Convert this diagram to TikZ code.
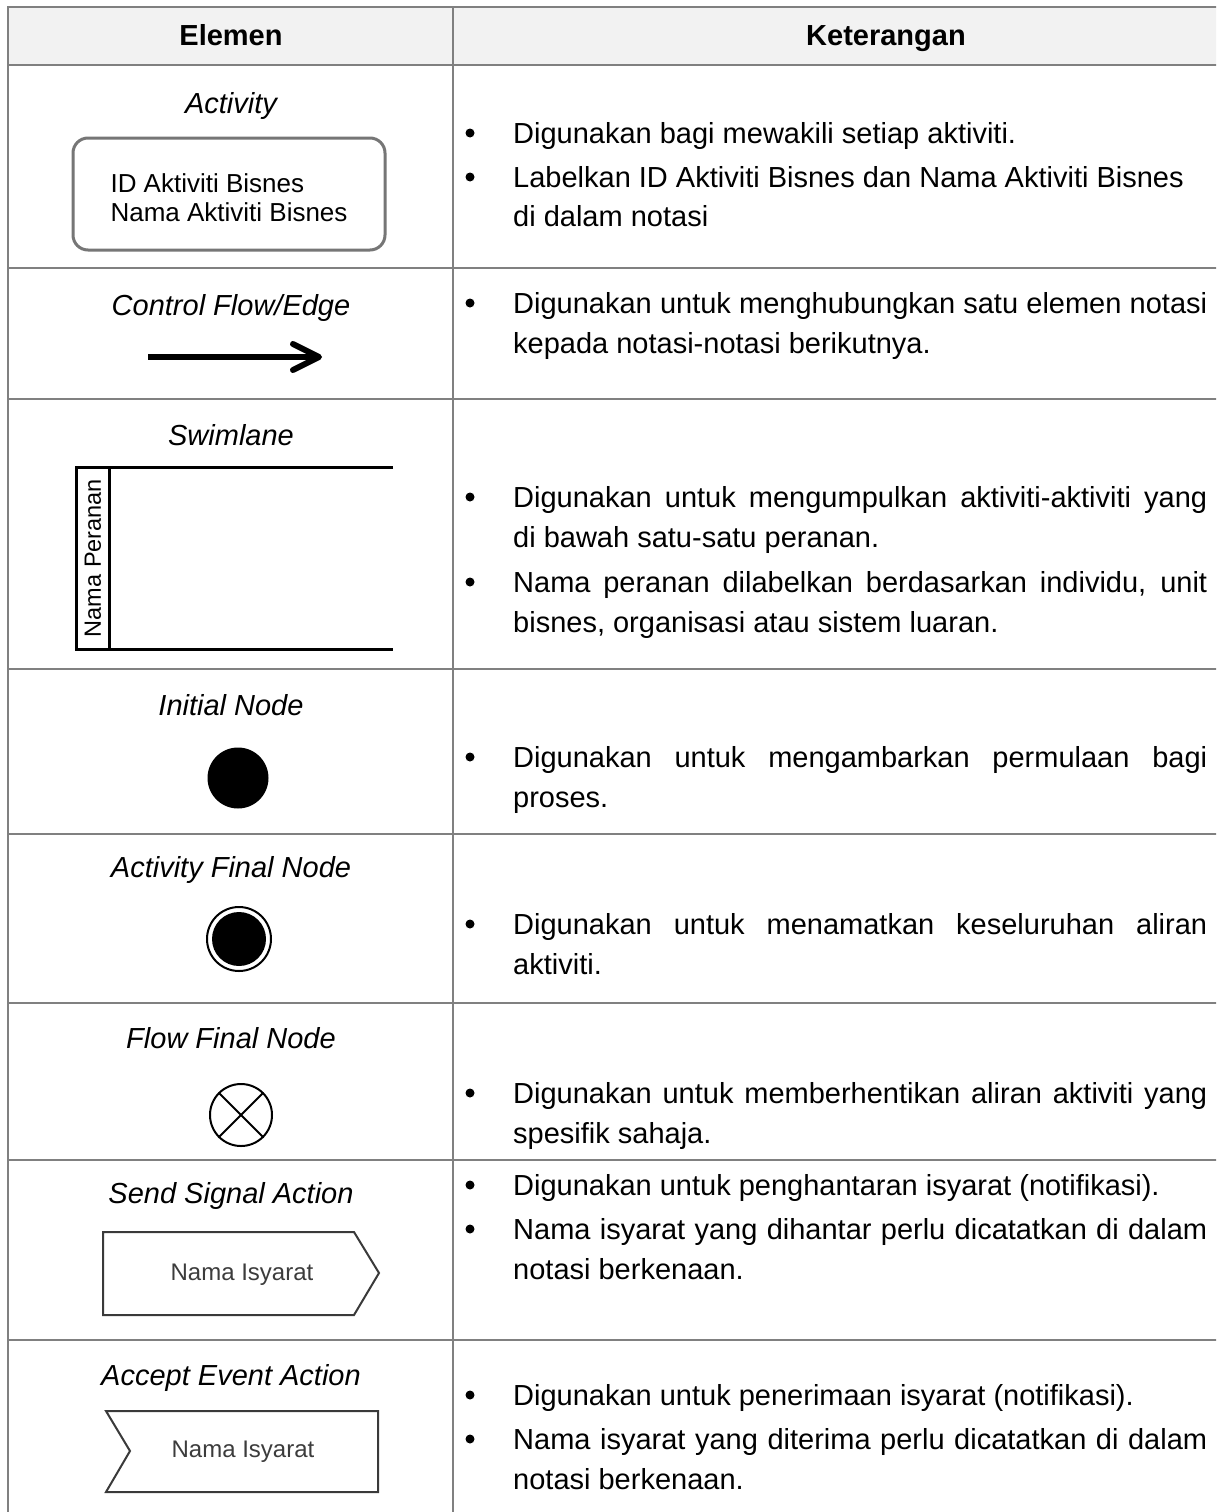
\documentclass[tikz,border=0pt]{standalone}
\usepackage{fontspec}
\setmainfont{Liberation Sans}
\usetikzlibrary{calc}
\definecolor{gridgray}{HTML}{808080}
\definecolor{hdrfill}{HTML}{F2F2F2}
\definecolor{boxgray}{HTML}{767676}
\definecolor{sigline}{HTML}{3A3A3A}
\definecolor{sigtext}{HTML}{3C3C3C}
\begin{document}
\begin{tikzpicture}[x=1pt,y=-1pt,
  grid/.style={draw=gridgray,line width=2.5pt},
  hdr/.style={font=\fontsize{29}{35}\selectfont\bfseries,anchor=base,inner sep=0pt},
  lbl/.style={font=\fontsize{29}{35}\selectfont\itshape,anchor=base,inner sep=0pt},
  txt/.style={font=\fontsize{29}{38}\selectfont,anchor=base west,inner sep=0pt},
  dot/.style={circle,fill=black,inner sep=0pt,minimum size=9pt},
  actbox/.style={draw=boxgray,line width=3pt,rounded corners=15pt,minimum width=312pt,minimum height=112pt,
    align=left,font=\fontsize{26}{29}\selectfont},
  lane/.style={draw=black,line width=3pt},
  sig/.style={draw=sigline,line width=2pt,line join=miter},
  sigtxt/.style={font=\fontsize{24}{28}\selectfont,text=sigtext,inner sep=0pt}
]
\useasboundingbox (0,0) rectangle (1216,1512);
\clip (0,0) rectangle (1216,1512);
\fill[white] (0,0) rectangle (1216,1512);

% table frame and header band
\fill[hdrfill] (8,7) rectangle (1230,65);
\draw[grid] (1230,7) -- (8,7) -- (8,1530);
\draw[grid] (453,7) -- (453,1530);
\foreach \yy in {65,268,399,669,834,1003,1160,1340}
  \draw[grid] (8,\yy) -- (1230,\yy);

\node[hdr] (hElemen) at (231,46) {Elemen};
\node[hdr] (hKet) at (886,46) {Keterangan};

% ---- Activity
\node[lbl] (lAct) at (231,113) {Activity};
\node[actbox] (act) at (229,194) {\rule{0pt}{27pt}ID Aktiviti Bisnes\\Nama Aktiviti Bisnes};
\node[dot] (b1) at (470,133) {};
\node[txt] (t1) at (513,143) {Digunakan bagi mewakili setiap aktiviti.};
\node[dot] (b2) at (470,177) {};
\node[txt] (t2a) at (513,187) {Labelkan ID Aktiviti Bisnes dan Nama Aktiviti Bisnes};
\node[txt] (t2b) at (513,226) {di dalam notasi};

% ---- Control Flow/Edge
\node[lbl] (lCf) at (231,315) {Control Flow/Edge};
\coordinate (cfA) at (148,357);
\coordinate (cfB) at (319,357);
\draw[line width=5.5pt] (cfA) -- ($(cfB)+(-3,0)$);
\draw[line width=6pt,line cap=round,line join=round]
  ($(cfB)+(-26,-13)$) -- (cfB) -- ($(cfB)+(-26,13)$);
\node[dot] (b3) at (470,303) {};
\node[txt] (t3a) at (513,313) {\makebox[694pt][s]{Digunakan untuk menghubungkan satu elemen notasi}};
\node[txt] (t3b) at (513,353) {kepada notasi-notasi berikutnya.};

% ---- Swimlane
\node[lbl] (lSw) at (231,445) {Swimlane};
\draw[lane] (393,467) -- (76,467) -- (76,649) -- (393,649);
\draw[lane] (109,467) -- (109,649);
\node[rotate=90,font=\fontsize{23.5}{27}\selectfont,inner sep=0pt] (role) at (93,558) {Nama Peranan};
\node[dot] (b4) at (470,497) {};
\node[txt] (t4a) at (513,507) {\makebox[694pt][s]{Digunakan untuk mengumpulkan aktiviti-aktiviti yang}};
\node[txt] (t4b) at (513,547) {di bawah satu-satu peranan.};
\node[dot] (b5) at (470,582) {};
\node[txt] (t5a) at (513,592) {\makebox[694pt][s]{Nama peranan dilabelkan berdasarkan individu, unit}};
\node[txt] (t5b) at (513,632) {bisnes, organisasi atau sistem luaran.};

% ---- Initial Node
\node[lbl] (lIn) at (231,715) {Initial Node};
\node[circle,fill=black,minimum size=61pt,inner sep=0pt] (init) at (238,778) {};
\node[dot] (b6) at (470,757) {};
\node[txt] (t6a) at (513,767) {\makebox[694pt][s]{Digunakan untuk mengambarkan permulaan bagi}};
\node[txt] (t6b) at (513,807) {proses.};

% ---- Activity Final Node
\node[lbl] (lAf) at (231,877) {Activity Final Node};
\node[circle,draw=black,line width=2pt,minimum size=64pt,inner sep=0pt] (afin) at (239,939) {};
\node[circle,fill=black,minimum size=54pt,inner sep=0pt] (afinc) at (afin) {};
\node[dot] (b7) at (470,924) {};
\node[txt] (t7a) at (513,934) {\makebox[694pt][s]{Digunakan untuk menamatkan keseluruhan aliran}};
\node[txt] (t7b) at (513,974) {aktiviti.};

% ---- Flow Final Node
\node[lbl] (lFf) at (231,1048) {Flow Final Node};
\node[circle,draw=black,line width=2pt,minimum size=62pt,inner sep=0pt] (ffin) at (241,1115) {};
\draw[line width=2pt] (ffin.north west) -- (ffin.south east);
\draw[line width=2pt] (ffin.north east) -- (ffin.south west);
\node[dot] (b8) at (470,1093) {};
\node[txt] (t8a) at (513,1103) {\makebox[694pt][s]{Digunakan untuk memberhentikan aliran aktiviti yang}};
\node[txt] (t8b) at (513,1143) {spesifik sahaja.};

% ---- Send Signal Action
\node[lbl] (lSs) at (231,1203) {Send Signal Action};
\coordinate (sTL) at (103,1232);
\coordinate (sTR) at (354,1232);
\coordinate (sTip) at (379,1273);
\coordinate (sBR) at (354,1315);
\coordinate (sBL) at (103,1315);
\draw[sig] (sTL) -- (sTR) -- (sTip) -- (sBR) -- (sBL) -- cycle;
\node[sigtxt] (sName) at (242,1275) {Nama Isyarat};
\node[dot] (b9) at (470,1185) {};
\node[txt] (t9) at (513,1195) {Digunakan untuk penghantaran isyarat (notifikasi).};
\node[dot] (b10) at (470,1229) {};
\node[txt] (t10a) at (513,1239) {\makebox[694pt][s]{Nama isyarat yang dihantar perlu dicatatkan di dalam}};
\node[txt] (t10b) at (513,1279) {notasi berkenaan.};

% ---- Accept Event Action
\node[lbl] (lAe) at (231,1385) {Accept Event Action};
\coordinate (aTL) at (106,1411);
\coordinate (aTR) at (378,1411);
\coordinate (aBR) at (378,1492);
\coordinate (aBL) at (106,1492);
\coordinate (aNotch) at (130,1451);
\draw[sig] (aTL) -- (aTR) -- (aBR) -- (aBL) -- (aNotch) -- cycle;
\node[sigtxt] (aName) at (243,1452) {Nama Isyarat};
\node[dot] (b11) at (470,1395) {};
\node[txt] (t11) at (513,1405) {Digunakan untuk penerimaan isyarat (notifikasi).};
\node[dot] (b12) at (470,1439) {};
\node[txt] (t12a) at (513,1449) {\makebox[694pt][s]{Nama isyarat yang diterima perlu dicatatkan di dalam}};
\node[txt] (t12b) at (513,1489) {notasi berkenaan.};
\end{tikzpicture}
\end{document}
